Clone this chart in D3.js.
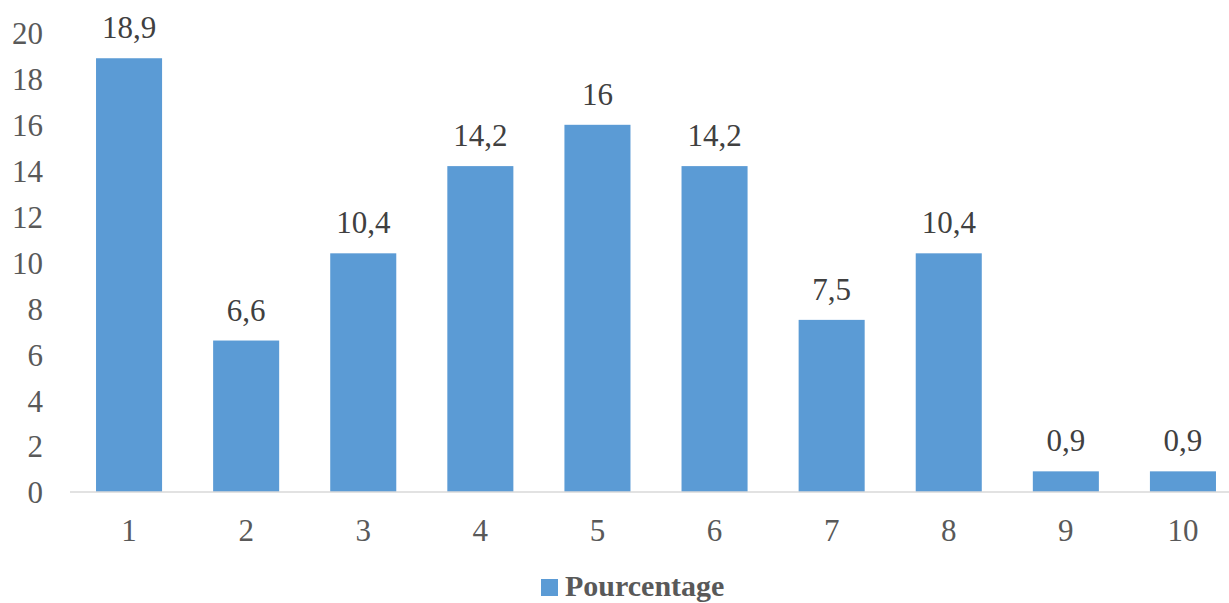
<!DOCTYPE html>
<html><head><meta charset="utf-8">
<script src="https://cdn.jsdelivr.net/npm/d3@7"></script>
<style>body{margin:0;background:#fff;overflow:hidden}svg{display:block}</style>
</head><body><svg id="c" width="1229" height="603"></svg>
<script>
const categories = ["1","2","3","4","5","6","7","8","9","10"];
const values = [18.9, 6.6, 10.4, 14.2, 16, 14.2, 7.5, 10.4, 0.9, 0.9];
const yTicks = [0,2,4,6,8,10,12,14,16,18,20];
const seriesName = "Pourcentage";

const svg = d3.select("#c");
const font = "'Liberation Serif','Times New Roman',serif";
const textColor = "#595959";
const barColor = "#5B9BD5";

const x = d3.scaleBand().domain(categories).range([70.5, 1241.5]).paddingInner(0.436).paddingOuter(0.218);
const y = d3.scaleLinear().domain([0, 20]).range([492, 33]);

// y axis labels
const yAxis = d3.axisLeft(y).tickValues(yTicks).tickSize(0).tickPadding(0).tickFormat(d3.format("d"));
const gy = svg.append("g").attr("transform", "translate(43,0)").call(yAxis);
gy.select(".domain").remove();
gy.selectAll("text").attr("font-family", font).attr("font-size", 31).attr("fill", textColor).attr("dy", "0.35em");

// bars
svg.append("g").selectAll("rect").data(values).join("rect")
  .attr("x", (d,i) => x(categories[i]))
  .attr("width", x.bandwidth())
  .attr("y", d => y(d))
  .attr("height", d => y(0) - y(d))
  .attr("fill", barColor);

// x axis
const xAxis = d3.axisBottom(x).tickSize(0).tickPadding(0);
const gx = svg.append("g").attr("transform", `translate(0,${y(0)})`).call(xAxis);
gx.select(".domain").remove();
gx.selectAll("text").attr("font-family", font).attr("font-size", 31).attr("fill", textColor).attr("dy", null).attr("y", 49);
svg.append("line").attr("x1", 70).attr("x2", 1229).attr("y1", y(0)).attr("y2", y(0)).attr("stroke", "#D9D9D9").attr("stroke-width", 1.5);

// data labels
const fmt = d => String(d).replace(".", ",");
svg.append("g").selectAll("text").data(values).join("text")
  .attr("x", (d,i) => x(categories[i]) + x.bandwidth()/2)
  .attr("y", d => y(d) - 20)
  .attr("text-anchor", "middle")
  .attr("font-family", font).attr("font-size", 31).attr("fill", "#404040")
  .text(fmt);

// legend
svg.append("rect").attr("x", 541).attr("y", 579).attr("width", 17).attr("height", 17).attr("fill", barColor);
svg.append("text").attr("x", 565).attr("y", 596).attr("font-family", font).attr("font-size", 30).attr("font-weight", "bold").attr("fill", textColor).text(seriesName);
</script></body></html>
